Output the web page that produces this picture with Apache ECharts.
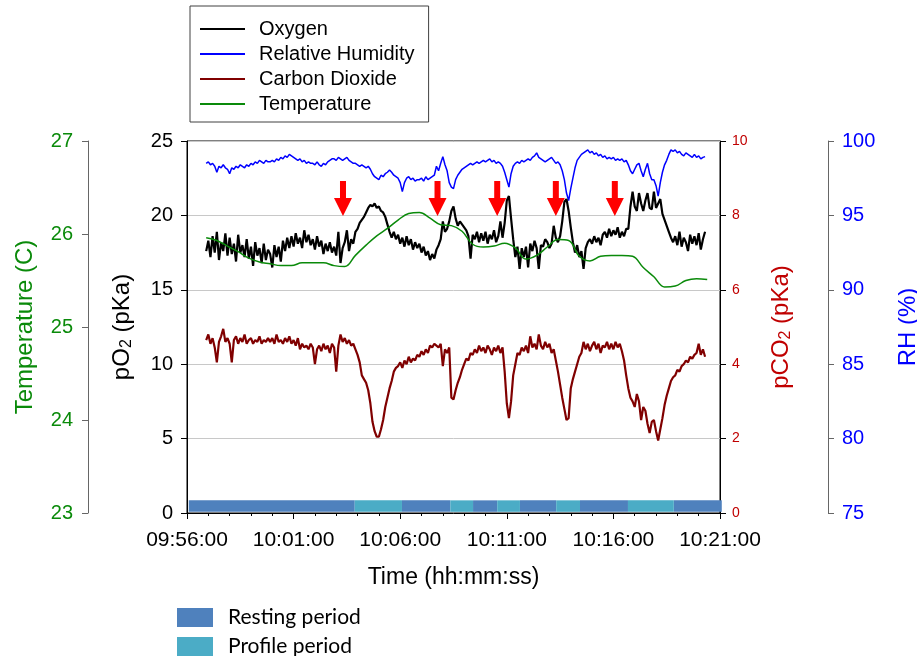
<!DOCTYPE html>
<html>
<head>
<meta charset="utf-8">
<script src="https://cdn.jsdelivr.net/npm/echarts@6/dist/echarts.min.js"></script>
<style>
  html, body { margin: 0; padding: 0; background: #fff; }
  #chart { width: 917px; height: 656px; }
</style>
</head>
<body>
<div id="chart"></div>
<script>
// samples every 6 s, first sample at 54 s after 09:56:00
var sampleStart = 54;
var sampleStep = 6;
var tempStart = 54;
var tempStep = 30;

var oxygen = [
  17.6, 18.3, 17.2, 18.6, 17.5, 18.9, 17.0, 18.2, 17.6, 18.8,
  17.3, 18.5, 17.4, 18.1, 16.9, 18.7, 17.5, 18.0, 17.2, 18.4,
  17.1, 17.9, 16.6, 18.2, 17.3, 17.8, 16.8, 18.1, 17.0, 17.7,
  17.4, 16.5, 18.0, 17.2, 17.9, 16.9, 18.3, 17.6, 18.5, 17.8,
  18.6, 17.9, 18.8, 18.1, 18.5, 17.8, 19.0, 18.2, 18.7, 18.0,
  18.4, 17.7, 18.6, 17.9, 18.3, 17.4, 18.1, 17.6, 18.2, 17.5,
  17.9, 17.3, 18.9, 16.8, 17.8, 18.2, 19.0, 17.6, 18.4, 18.1,
  18.9, 19.1, 19.5, 19.7, 19.9, 20.2, 20.5, 20.7, 20.6, 20.8,
  20.5, 20.6, 20.3, 20.2, 19.9, 19.4, 18.9, 18.5, 18.9, 18.4,
  18.7, 18.1, 18.5, 17.9, 18.6, 18.0, 18.4, 17.7, 18.2, 17.8,
  18.1, 17.5, 17.9, 17.3, 17.6, 17.0, 17.4, 17.1, 17.7, 18.0,
  18.4, 19.6, 18.9, 19.1, 19.6, 20.3, 20.6, 19.8, 19.3, 19.6,
  19.4, 19.2, 19.0, 18.6, 17.1, 18.7, 18.4, 18.9, 18.2, 18.8,
  18.3, 18.9, 18.1, 18.7, 18.4, 19.0, 18.2, 18.6, 19.6, 18.5,
  19.5, 21.0, 21.3, 19.8, 18.4, 17.2, 17.9, 16.4, 17.8, 17.2,
  17.9, 16.5, 18.1, 17.6, 18.3, 17.8, 16.4, 18.0, 17.9, 18.4,
  18.2, 17.8, 18.1, 19.3, 18.5, 18.2, 18.6, 19.6, 20.9, 21.1,
  20.3, 19.2, 18.2, 17.5, 18.0, 17.2, 17.6, 16.4, 17.8, 18.2,
  18.4, 18.1, 18.6, 18.2, 18.5, 18.0, 18.7, 18.9, 18.5, 19.1,
  18.6, 19.0, 18.7, 19.2, 18.5, 18.9, 18.6, 19.1, 19.1, 20.6,
  21.6, 20.6, 20.3, 21.5, 20.8, 20.3, 21.0, 21.5, 20.5, 20.4,
  21.6, 20.5, 20.8, 21.1, 20.1, 19.7, 19.3, 18.9, 18.5, 18.2,
  18.6, 18.0, 18.9, 17.9, 18.5, 18.2, 17.6, 18.7, 18.1, 18.6,
  18.0, 18.8, 17.7, 18.4, 18.9
];

var humidity = [
  98.5, 98.6, 98.4, 98.5, 98.3, 97.9, 98.3, 98.2, 98.4, 98.2,
  98.1, 97.8, 98.2, 98.1, 98.3, 98.2, 98.4, 98.3, 98.2, 98.4,
  98.3, 98.5, 98.4, 98.6, 98.5, 98.7, 98.6, 98.5, 98.7, 98.6,
  98.6, 98.7, 98.6, 98.8, 98.7, 98.9, 98.8, 99.0, 98.9, 99.1,
  99.0, 98.9, 98.8, 98.7, 98.8, 98.6, 98.7, 98.5, 98.6, 98.5,
  98.5, 98.4, 98.6, 98.4, 98.3, 98.5, 98.4, 98.6, 98.7, 98.8,
  98.8, 98.7, 98.9, 98.8, 98.7, 98.8, 98.9, 98.7, 98.6, 98.5,
  98.5, 98.4, 98.3, 98.4, 98.3, 98.2, 98.3, 98.1, 97.8, 97.6,
  97.5, 97.4, 97.7, 97.6, 97.8, 97.9, 98.05, 97.9, 97.7, 97.6,
  97.5, 97.2, 96.6, 97.2, 97.5, 97.6, 97.4, 97.5, 97.3, 97.4,
  97.4, 97.5, 97.3, 97.6, 97.4, 97.5, 97.6, 97.7, 98.3, 98.0,
  98.5, 98.95, 98.4, 98.0, 97.2, 96.9, 96.8, 97.4, 97.7, 97.9,
  98.1, 98.2, 98.3, 98.4, 98.5, 98.4, 98.5, 98.6, 98.5, 98.6,
  98.7, 98.6, 98.7, 98.8, 98.6, 98.7, 98.5, 98.6, 98.5, 98.3,
  97.9, 97.4, 96.9, 97.8, 98.3, 98.5, 98.6, 98.5, 98.7, 98.6,
  98.7, 98.8, 98.7, 98.9, 99.0, 99.2, 98.9, 98.8, 98.7, 98.6,
  98.7, 98.8, 98.9, 98.7, 98.5, 98.6, 98.4, 98.0, 97.4, 96.5,
  96.0, 96.8, 97.5, 98.2, 98.7, 98.9, 99.1, 99.2, 99.3, 99.4,
  99.2, 99.3, 99.1, 99.2, 99.0, 99.1, 98.9, 99.0, 98.8, 98.9,
  98.8, 98.9, 98.7, 98.8, 98.7, 98.8, 98.6, 98.7, 98.4, 98.0,
  97.8, 98.1, 98.4, 98.5, 98.0, 97.6, 98.1, 98.5, 97.8, 97.4,
  97.4, 97.0, 96.3, 97.2, 97.9, 98.4, 98.7, 99.1, 99.4, 99.3,
  99.4, 99.2, 99.3, 99.1, 99.0, 99.2, 99.1, 99.0, 98.9, 99.1,
  98.9, 99.0, 98.8, 98.9, 98.95
];

var carbonDioxide = [
  4.65, 4.8, 4.55, 4.7, 4.45, 4.05, 4.6, 4.75, 4.95, 4.6,
  4.7, 4.55, 4.05, 4.65, 4.75, 4.55, 4.7, 4.6, 4.8, 4.55,
  4.65, 4.7, 4.55, 4.65, 4.6, 4.75, 4.55, 4.65, 4.6, 4.7,
  4.6, 4.7, 4.55, 4.8, 4.6, 4.65, 4.55, 4.7, 4.6, 4.75,
  4.55, 4.65, 4.5, 4.7, 4.4, 4.55, 4.45, 4.5, 4.4, 4.55,
  4.45, 4.0, 4.4, 4.5, 4.35, 4.55, 4.4, 4.5, 4.3, 4.55,
  4.45, 3.8, 4.5, 4.8, 4.6, 4.7, 4.55, 4.65, 4.5, 4.55,
  4.4, 4.25, 4.05, 3.7, 3.6, 3.5, 3.3, 2.95, 2.45, 2.2,
  2.05, 2.05, 2.25, 2.5, 2.85, 3.1, 3.35, 3.55, 3.8, 3.9,
  3.95, 4.05, 3.9, 4.1, 4.0, 4.2, 4.05, 4.15, 4.1, 4.25,
  4.2, 4.35, 4.25, 4.4, 4.3, 4.5, 4.45, 4.55, 4.5, 4.45,
  4.55, 3.95, 4.4, 4.3, 4.45, 3.1, 3.05, 3.3, 3.5, 3.65,
  3.85, 4.0, 4.15, 4.1, 4.3, 4.25, 4.4, 4.3, 4.5, 4.35,
  4.45, 4.3, 4.5, 4.4, 4.25, 4.45, 4.35, 4.5, 4.3, 4.45,
  3.8, 2.95, 2.55, 3.0, 3.7, 4.0, 4.3, 4.25, 4.45, 4.35,
  4.5, 4.3, 4.75, 4.45, 4.55, 4.4, 4.8, 4.5, 4.4, 4.6,
  4.45, 4.55, 4.3, 4.4, 4.1, 3.8, 3.45, 3.1, 2.8, 2.5,
  2.55, 3.35, 3.6, 3.8, 4.0, 4.2, 4.3, 4.6, 4.4, 4.55,
  4.35, 4.5, 4.6, 4.4, 4.55, 4.3, 4.5, 4.45, 4.6, 4.4,
  4.55, 4.4, 4.6, 4.45, 4.55, 4.35, 4.1, 3.7, 3.35, 3.1,
  3.0, 2.85, 3.2, 3.0, 2.5, 2.85, 2.75, 2.4, 2.15, 2.45,
  2.5, 2.2, 1.95, 2.25, 2.55, 2.9, 3.15, 3.35, 3.55, 3.65,
  3.7, 3.85, 3.8, 3.95, 4.0, 4.1, 4.05, 4.2, 4.15, 4.25,
  4.3, 4.55, 4.25, 4.4, 4.2
];

// temperature, one sample every 30 s
var temperature = [
  25.96, 25.93, 25.87, 25.81, 25.74, 25.70, 25.68, 25.66, 25.66, 25.69,
  25.69, 25.69, 25.66, 25.65, 25.77, 25.88, 25.98, 26.06, 26.15, 26.22,
  26.23, 26.17, 26.10, 26.09, 26.03, 25.89, 25.86, 25.87, 25.90, 25.85,
  25.73, 25.77, 25.86, 25.94, 25.93, 25.76, 25.71, 25.76, 25.77, 25.77,
  25.76, 25.64, 25.54, 25.43, 25.44, 25.50, 25.52, 25.51
];

// seconds after 09:56:00
var arrowTimes = [439, 705, 873, 1038, 1204];
var restingPeriods = [[5, 472], [605, 741], [805, 873], [937, 1039], [1106, 1241], [1370, 1505]];
var profilePeriods = [[472, 605], [741, 805], [873, 937], [1039, 1106], [1241, 1370]];

var FONT = '"Liberation Sans", Arial, sans-serif';
var startClock = 9 * 3600 + 56 * 60;

function pad(n) { return (n < 10 ? '0' : '') + n; }
function fmtTime(v) {
  var s = startClock + v;
  return pad(Math.floor(s / 3600)) + ':' + pad(Math.floor((s % 3600) / 60)) + ':' + pad(s % 60);
}
function pairs(arr, t0, step) {
  var out = [];
  for (var i = 0; i < arr.length; i++) out.push([t0 + i * step, arr[i]]);
  return out;
}
function periodItem(color) {
  return function (params, api) {
    var a = api.coord([api.value(0), 0.85]);
    var b = api.coord([api.value(1), 0.08]);
    return {
      type: 'rect',
      shape: { x: a[0], y: a[1], width: b[0] - a[0], height: b[1] - a[1] },
      style: { fill: color }
    };
  };
}
function periodLegend(name, top) {
  return {
    data: [name],
    left: 177,
    top: top,
    padding: 0,
    icon: 'rect',
    itemWidth: 36,
    itemHeight: 19,
    textStyle: { fontSize: 21, color: '#000', fontFamily: 'Lato, "Open Sans", sans-serif', padding: [0, 0, 0, 10] }
  };
}

var myChart = echarts.init(document.getElementById('chart'));

var option = {
  animation: false,
  backgroundColor: '#fff',
  textStyle: { fontFamily: FONT },
  grid: {
    left: 187, right: 197, top: 141, bottom: 143,
    outerBoundsMode: 'none', containLabel: false,
    show: true, borderColor: '#000', borderWidth: 1
  },
  legend: [
    {
      data: ['Oxygen', 'Relative Humidity', 'Carbon Dioxide', 'Temperature'],
      orient: 'vertical',
      left: 190,
      top: 6,
      padding: [13, 14, 8, 10],
      borderColor: '#404040',
      borderWidth: 1,
      icon: 'rect',
      itemWidth: 45,
      itemHeight: 2,
      itemGap: 5,
      textStyle: { fontSize: 20, color: '#000', fontFamily: FONT, lineHeight: 20, padding: [0, 0, 0, 9] }
    },
    periodLegend('Resting period', 607),
    periodLegend('Profile period', 636)
  ],
  xAxis: {
    type: 'value',
    min: 0,
    max: 1500,
    interval: 300,
    name: 'Time (hh:mm:ss)',
    nameLocation: 'middle',
    nameGap: 53,
    nameTextStyle: { fontSize: 23, color: '#000' },
    axisLine: { show: true, lineStyle: { color: '#000' } },
    axisTick: { length: 6, lineStyle: { color: '#000' } },
    minorTick: { show: true, splitNumber: 5, length: 3, lineStyle: { color: '#000' } },
    axisLabel: { formatter: fmtTime, color: '#000', fontSize: 21, margin: 17 },
    splitLine: { show: false }
  },
  yAxis: [
    {
      type: 'value', position: 'left', min: 0, max: 25, interval: 5,
      name: '{t|pO}{s|2}{t| (pKa)}',
      nameLocation: 'middle', nameGap: 52,
      nameTextStyle: { rich: {
        t: { fontSize: 24, color: '#000', fontFamily: FONT },
        s: { fontSize: 16, color: '#000', fontFamily: FONT, verticalAlign: 'bottom', padding: [9, 0, 0, 0] }
      } },
      axisLine: { show: true, lineStyle: { color: '#000' } },
      axisTick: { show: true, length: 6, lineStyle: { color: '#000' } },
      axisLabel: { color: '#000', fontSize: 20, margin: 14 },
      splitLine: { show: true, lineStyle: { color: '#c8c8c8' } }
    },
    {
      type: 'value', position: 'left', offset: 99, min: 23, max: 27, interval: 1,
      name: 'Temperature (C)',
      nameLocation: 'middle', nameGap: 51,
      nameTextStyle: { fontSize: 24, color: '#0a8a0a' },
      axisLine: { show: true, lineStyle: { color: '#666' } },
      axisTick: { show: true, length: 6, lineStyle: { color: '#666' } },
      axisLabel: { color: '#0a8a0a', fontSize: 20, margin: 15 },
      splitLine: { show: false }
    },
    {
      type: 'value', position: 'right', min: 0, max: 10, interval: 2,
      name: '{t|pCO}{s|2}{t| (pKa)}',
      nameLocation: 'middle', nameGap: 49,
      nameTextStyle: { rich: {
        t: { fontSize: 24, color: '#c00000', fontFamily: FONT },
        s: { fontSize: 16, color: '#c00000', fontFamily: FONT, verticalAlign: 'bottom', padding: [9, 0, 0, 0] }
      } },
      axisLine: { show: true, lineStyle: { color: '#000' } },
      axisTick: { show: true, length: 6, lineStyle: { color: '#000' } },
      axisLabel: { color: '#c00000', fontSize: 14, margin: 12 },
      splitLine: { show: false }
    },
    {
      type: 'value', position: 'right', offset: 108, min: 75, max: 100, interval: 5,
      name: 'RH (%)',
      nameLocation: 'middle', nameGap: 68,
      nameTextStyle: { fontSize: 24, color: '#0000ff' },
      axisLine: { show: true, lineStyle: { color: '#666' } },
      axisTick: { show: true, length: 6, lineStyle: { color: '#666' } },
      axisLabel: { color: '#0000ff', fontSize: 20, margin: 14 },
      splitLine: { show: false }
    }
  ],
  series: [
    {
      name: 'Resting period', type: 'custom', yAxisIndex: 0,
      itemStyle: { color: '#4f81bd' },
      renderItem: periodItem('#4f81bd'),
      encode: { x: [0, 1] },
      data: restingPeriods
    },
    {
      name: 'Profile period', type: 'custom', yAxisIndex: 0,
      itemStyle: { color: '#4bacc6' },
      renderItem: periodItem('#4bacc6'),
      encode: { x: [0, 1] },
      data: profilePeriods
    },
    {
      name: 'Carbon Dioxide', type: 'line', yAxisIndex: 2, showSymbol: false,
      itemStyle: { color: '#800000' },
      lineStyle: { color: '#800000', width: 2.2 },
      data: pairs(carbonDioxide, sampleStart, sampleStep)
    },
    {
      name: 'Relative Humidity', type: 'line', yAxisIndex: 3, showSymbol: false,
      itemStyle: { color: '#0000ff' },
      lineStyle: { color: '#0000ff', width: 1.5 },
      data: pairs(humidity, sampleStart, sampleStep)
    },
    {
      name: 'Oxygen', type: 'line', yAxisIndex: 0, showSymbol: false,
      itemStyle: { color: '#000' },
      lineStyle: { color: '#000', width: 2.2 },
      data: pairs(oxygen, sampleStart, sampleStep)
    },
    {
      name: 'Temperature', type: 'line', yAxisIndex: 1, showSymbol: false, smooth: 0.4,
      itemStyle: { color: '#0a8a0a' },
      lineStyle: { color: '#0a8a0a', width: 1.5 },
      data: pairs(temperature, tempStart, tempStep)
    },
    {
      name: 'arrows', type: 'scatter', yAxisIndex: 0,
      symbol: 'path://M6,0 H12 V17 H18 L9,35 L0,17 H6 Z',
      symbolSize: [18, 35],
      symbolKeepAspect: false,
      itemStyle: { color: '#ff0000', opacity: 1 },
      data: arrowTimes.map(function (t) { return [t, 21.14]; })
    }
  ]
};

myChart.setOption(option);
</script>
</body>
</html>
